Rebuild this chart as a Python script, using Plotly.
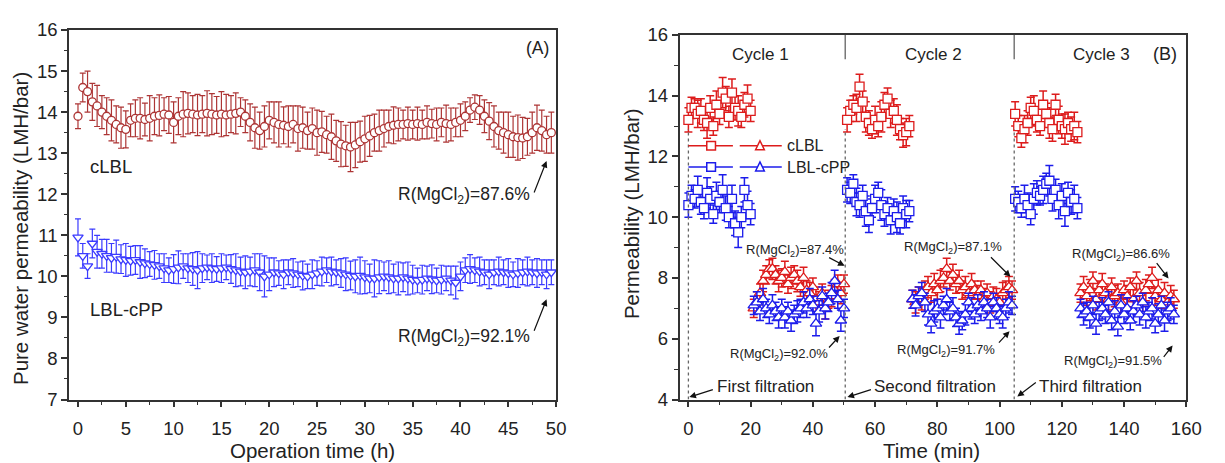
import plotly.graph_objects as go

# ---------------- Panel A data ----------------
time_h = [0.0, 0.5, 1.0, 1.5, 2.0, 2.5, 3.0, 3.5, 4.0, 4.5, 5.0, 5.5, 6.0, 6.5, 7.0, 7.5, 8.0, 8.5, 9.0, 9.5,
          10.0, 10.5, 11.0, 11.5, 12.0, 12.5, 13.0, 13.5, 14.0, 14.5, 15.0, 15.5, 16.0, 16.5, 17.0, 17.5, 18.0, 18.5, 19.0, 19.5,
          20.0, 20.5, 21.0, 21.5, 22.0, 22.5, 23.0, 23.5, 24.0, 24.5, 25.0, 25.5, 26.0, 26.5, 27.0, 27.5, 28.0, 28.5, 29.0, 29.5,
          30.0, 30.5, 31.0, 31.5, 32.0, 32.5, 33.0, 33.5, 34.0, 34.5, 35.0, 35.5, 36.0, 36.5, 37.0, 37.5, 38.0, 38.5, 39.0, 39.5,
          40.0, 40.5, 41.0, 41.5, 42.0, 42.5, 43.0, 43.5, 44.0, 44.5, 45.0, 45.5, 46.0, 46.5, 47.0, 47.5, 48.0, 48.5, 49.0, 49.5]

clbl_A = [13.9, 14.6, 14.5, 14.25, 14.15, 14.0, 13.9, 13.8, 13.7, 13.62, 13.58, 13.8, 13.85, 13.85, 13.82, 13.85, 13.9, 13.92, 13.95, 13.93,
          13.75, 13.9, 13.95, 13.97, 13.95, 13.93, 13.95, 13.97, 13.95, 13.93, 13.95, 13.93, 13.95, 13.97, 14.0, 13.9, 13.75, 13.62, 13.55, 13.65,
          13.8, 13.75, 13.7, 13.68, 13.65, 13.7, 13.6, 13.62, 13.55, 13.6, 13.5, 13.52, 13.45, 13.4, 13.3, 13.22, 13.18, 13.15, 13.2, 13.28,
          13.35, 13.42, 13.5, 13.55, 13.6, 13.65, 13.68, 13.7, 13.7, 13.72, 13.7, 13.72, 13.7, 13.75, 13.72, 13.7, 13.75, 13.72, 13.7, 13.75,
          13.8, 13.9, 14.05, 14.12, 14.05, 13.9, 13.78, 13.65, 13.55, 13.5, 13.45, 13.4, 13.38, 13.37, 13.4, 13.5, 13.62, 13.55, 13.45, 13.5]
clbl_A_err = [0.3, 0.35, 0.5, 0.45, 0.5, 0.4, 0.45, 0.5, 0.45, 0.5, 0.45, 0.4, 0.45, 0.5, 0.4, 0.55, 0.45, 0.5, 0.4, 0.45,
              0.5, 0.45, 0.55, 0.5, 0.45, 0.5, 0.45, 0.55, 0.5, 0.45, 0.55, 0.5, 0.45, 0.5, 0.35, 0.4, 0.45, 0.5, 0.45, 0.5,
              0.45, 0.5, 0.55, 0.45, 0.5, 0.45, 0.55, 0.5, 0.45, 0.5, 0.55, 0.5, 0.45, 0.55, 0.5, 0.55, 0.5, 0.6, 0.55, 0.5,
              0.55, 0.5, 0.45, 0.5, 0.45, 0.4, 0.45, 0.4, 0.35, 0.4, 0.35, 0.4, 0.35, 0.4, 0.35, 0.4, 0.35, 0.45, 0.4, 0.35,
              0.4, 0.35, 0.3, 0.3, 0.35, 0.4, 0.45, 0.5, 0.45, 0.5, 0.55, 0.5, 0.55, 0.5, 0.45, 0.5, 0.55, 0.5, 0.45, 0.5]

lblcpp_A = [10.95, 10.5, 10.25, 10.8, 10.6, 10.55, 10.5, 10.45, 10.48, 10.42, 10.4, 10.38, 10.4, 10.35, 10.32, 10.3, 10.28, 10.25, 10.2, 10.15,
            10.18, 10.22, 10.25, 10.2, 10.18, 10.15, 10.2, 10.22, 10.2, 10.18, 10.2, 10.22, 10.18, 10.15, 10.12, 10.1, 10.12, 10.15, 10.1, 10.0,
            10.05, 10.1, 10.08, 10.05, 10.1, 10.08, 10.05, 10.02, 10.0, 10.05, 10.08, 10.12, 10.15, 10.12, 10.1, 10.08, 10.05, 10.02, 10.0, 10.02,
            9.98, 9.95, 9.95, 9.98, 10.0, 9.98, 9.95, 9.95, 9.98, 9.95, 9.92, 9.9, 9.92, 9.95, 9.93, 9.9, 9.92, 9.95, 9.9, 9.85,
            10.0, 10.15, 10.18, 10.15, 10.12, 10.1, 10.05, 10.1, 10.12, 10.1, 10.08, 10.05, 10.08, 10.1, 10.12, 10.1, 10.08, 10.1, 10.05, 10.1]
lblcpp_A_err = [0.45, 0.3, 0.3, 0.35, 0.4, 0.35, 0.4, 0.35, 0.4, 0.35, 0.4, 0.35, 0.35, 0.4, 0.35, 0.3, 0.35, 0.3, 0.35, 0.3,
                0.35, 0.4, 0.3, 0.35, 0.4, 0.45, 0.35, 0.3, 0.35, 0.3, 0.35, 0.3, 0.35, 0.4, 0.35, 0.4, 0.35, 0.4, 0.45, 0.5,
                0.4, 0.35, 0.3, 0.35, 0.3, 0.35, 0.3, 0.35, 0.3, 0.35, 0.3, 0.35, 0.3, 0.35, 0.3, 0.35, 0.4, 0.35, 0.4, 0.45,
                0.4, 0.35, 0.45, 0.4, 0.35, 0.4, 0.35, 0.4, 0.35, 0.4, 0.35, 0.3, 0.35, 0.3, 0.35, 0.3, 0.35, 0.3, 0.35, 0.4,
                0.35, 0.3, 0.35, 0.3, 0.35, 0.3, 0.35, 0.3, 0.35, 0.3, 0.35, 0.3, 0.35, 0.3, 0.35, 0.3, 0.35, 0.3, 0.35, 0.3]

# ---------------- Panel B data ----------------
t_sq1 = [0, 1, 2, 3, 4, 5, 6, 7, 8, 9, 10, 11, 12, 13, 14, 15, 16, 17, 18, 19, 20]
t_tr1 = [21, 22, 23, 24, 25, 26, 27, 28, 29, 30, 31, 32, 33, 34, 35, 36, 37, 38, 39, 40, 41, 42, 43, 44, 45, 46, 47, 48, 49, 50]
t_sq2 = [51, 52, 53, 54, 55, 56, 57, 58, 59, 60, 61, 62, 63, 64, 65, 66, 67, 68, 69, 70, 71]
t_tr2 = [72, 73, 74, 75, 76, 77, 78, 79, 80, 81, 82, 83, 84, 85, 86, 87, 88, 89, 90, 91, 92, 93, 94, 95, 96, 97, 98, 99, 100,
         101, 102, 103, 104]
t_sq3 = [105, 106, 107, 108, 109, 110, 111, 112, 113, 114, 115, 116, 117, 118, 119, 120, 121, 122, 123, 124, 125]
t_tr3 = [126, 127, 128, 129, 130, 131, 132, 133, 134, 135, 136, 137, 138, 139, 140, 141, 142, 143, 144, 145, 146, 147, 148, 149,
         150, 151, 152, 153, 154, 155, 156]

clbl_sq1 = [13.2, 13.6, 13.6, 13.4, 13.5, 13.2, 13.1, 13.6, 13.0, 13.7, 13.4, 14.1, 13.9, 13.3, 14.1, 13.6, 13.5, 13.3, 13.7, 13.9, 13.5]
cpp_sq1 = [10.4, 10.7, 10.6, 10.9, 10.5, 10.3, 10.8, 10.6, 10.1, 10.7, 10.5, 10.9, 10.3, 10.0, 10.6, 9.8, 9.5, 10.0, 10.9, 10.4, 10.1]
clbl_tr1 = [7.0, 7.2, 7.5, 7.9, 8.1, 8.3, 8.3, 8.1, 7.9, 8.0, 8.2, 7.8, 8.0, 8.1, 7.9, 7.7, 8.0, 7.6, 7.5, 7.7,
            7.3, 7.2, 7.5, 7.0, 7.3, 7.4, 7.6, 7.8, 7.5, 7.8]
cpp_tr1 = [7.1, 7.2, 6.9, 7.3, 7.0, 6.8, 7.1, 6.9, 6.7, 7.0, 6.7, 6.9, 6.6, 6.8, 6.9, 7.0, 7.2, 7.0, 7.3, 7.1,
           6.5, 6.9, 7.4, 7.0, 7.2, 7.5, 7.9, 7.3, 6.6, 7.0]
clbl_sq2 = [13.2, 13.5, 13.7, 13.6, 14.3, 13.8, 13.3, 13.1, 12.9, 13.2, 13.0, 13.3, 13.7, 13.9, 13.4, 13.5, 13.2, 12.9, 12.7, 12.8, 13.0]
cpp_sq2 = [10.9, 10.8, 11.1, 10.5, 10.4, 10.7, 10.2, 9.9, 10.3, 10.6, 10.8, 10.4, 10.1, 10.3, 9.9, 10.2, 10.0, 9.8, 10.3, 10.1, 10.2]
clbl_tr2 = [7.3, 7.2, 7.4, 7.3, 7.6, 7.7, 7.5, 7.8, 7.6, 7.9, 8.0, 8.3, 7.9, 8.1, 7.8, 7.9, 7.6, 7.7, 7.5, 7.8,
            7.6, 7.4, 7.6, 7.3, 7.5, 7.2, 7.4, 7.3, 7.2, 7.5, 7.6, 7.7, 7.6]
cpp_tr2 = [7.3, 7.1, 7.4, 7.5, 7.2, 6.8, 6.5, 6.9, 7.0, 6.7, 7.1, 7.3, 6.9, 7.0, 6.7, 6.5, 6.6, 6.8, 7.2, 7.0,
           6.8, 7.1, 6.9, 7.2, 7.0, 6.7, 7.2, 7.0, 6.8, 6.7, 7.0, 7.2, 7.1]
clbl_sq3 = [13.4, 13.0, 12.6, 12.9, 13.1, 13.6, 13.5, 13.2, 13.0, 13.7, 13.4, 13.1, 12.9, 13.7, 13.2, 13.0, 12.9, 13.1, 12.9, 13.0, 12.8]
cpp_sq3 = [10.6, 10.5, 10.3, 10.6, 10.4, 10.1, 10.6, 10.8, 10.7, 10.9, 11.1, 11.2, 10.6, 10.9, 10.4, 10.7, 10.2, 10.8, 10.5, 10.6, 10.3]
clbl_tr3 = [7.5, 7.7, 7.4, 7.6, 7.9, 7.3, 7.6, 7.8, 7.5, 7.3, 7.7, 7.4, 7.5, 7.2, 7.6, 7.4, 7.7, 7.3, 7.9, 7.5,
            7.2, 7.6, 7.8, 8.0, 7.4, 7.6, 7.3, 7.5, 7.2, 7.4, 7.3]
cpp_tr3 = [7.0, 6.8, 6.9, 6.7, 7.1, 6.5, 6.9, 7.0, 6.8, 7.2, 6.6, 6.9, 6.4, 7.1, 6.8, 7.0, 6.6, 6.9, 7.1, 6.8,
           7.2, 6.7, 6.9, 7.0, 6.5, 6.8, 7.1, 6.6, 6.9, 7.0, 6.8]
err_sq = [0.4, 0.35, 0.3, 0.45, 0.4, 0.35, 0.5, 0.4, 0.3, 0.45, 0.35, 0.5, 0.4, 0.35, 0.45, 0.4, 0.5, 0.35, 0.4, 0.45, 0.35]
err_tr1 = [0.3, 0.35, 0.3, 0.35, 0.3, 0.3, 0.35, 0.3, 0.35, 0.3, 0.35, 0.3, 0.35, 0.3, 0.35, 0.3, 0.35, 0.3, 0.35, 0.3,
           0.4, 0.35, 0.3, 0.35, 0.3, 0.35, 0.35, 0.3, 0.35, 0.3]
err_tr2 = [0.3, 0.35, 0.3, 0.35, 0.3, 0.35, 0.3, 0.35, 0.3, 0.35, 0.3, 0.35, 0.3, 0.35, 0.3, 0.35, 0.3, 0.35, 0.3, 0.35,
           0.3, 0.35, 0.3, 0.35, 0.3, 0.35, 0.3, 0.35, 0.3, 0.35, 0.3, 0.35, 0.3]
err_tr3 = [0.3, 0.35, 0.3, 0.35, 0.3, 0.35, 0.3, 0.35, 0.3, 0.35, 0.3, 0.35, 0.3, 0.35, 0.3, 0.35, 0.3, 0.35, 0.3, 0.35,
           0.3, 0.35, 0.3, 0.35, 0.3, 0.35, 0.3, 0.35, 0.3, 0.35, 0.3]

cycle_bounds = [0, 50.4, 104.7]
cycle_labels = ["Cycle 1", "Cycle 2", "Cycle 3"]
cycle_label_x = [23.2, 78.7, 132.7]

RED_A = "#ad3535"
BLUE_A = "#3b3bff"
RED_B = "#dd1c1c"
BLUE_B = "#1c1ceb"
FONT = "Arial, Liberation Sans, sans-serif"
TXT = "#222222"

fig = go.Figure()

def add_series(x, y, err, color, symbol, size, xa, ya, width=1.2, cap=3):
    fig.add_trace(go.Scatter(
        x=x, y=y, mode="markers", xaxis=xa, yaxis=ya, showlegend=False,
        error_y=dict(type="data", array=err, visible=True, color=color, thickness=width, width=cap),
        marker=dict(symbol=symbol, size=size, color="white", line=dict(color=color, width=1.3)),
    ))

# Panel A
add_series(time_h, clbl_A, clbl_A_err, RED_A, "circle", 8, "x", "y")
add_series(time_h, lblcpp_A, lblcpp_A_err, BLUE_A, "triangle-down", 9, "x", "y")

# Panel B
for xs, ys in [(t_sq1, clbl_sq1), (t_sq2, clbl_sq2), (t_sq3, clbl_sq3)]:
    add_series(xs, ys, err_sq, RED_B, "square", 9, "x2", "y2", 1.5, 4)
for xs, ys in [(t_sq1, cpp_sq1), (t_sq2, cpp_sq2), (t_sq3, cpp_sq3)]:
    add_series(xs, ys, err_sq, BLUE_B, "square", 9, "x2", "y2", 1.5, 4)
for xs, ys, e in [(t_tr1, clbl_tr1, err_tr1), (t_tr2, clbl_tr2, err_tr2), (t_tr3, clbl_tr3, err_tr3)]:
    add_series(xs, ys, e, RED_B, "triangle-up", 10, "x2", "y2", 1.5, 4)
for xs, ys, e in [(t_tr1, cpp_tr1, err_tr1), (t_tr2, cpp_tr2, err_tr2), (t_tr3, cpp_tr3, err_tr3)]:
    add_series(xs, ys, e, BLUE_B, "triangle-up", 10, "x2", "y2", 1.5, 4)

axis_common = dict(showline=True, linecolor="#333333", linewidth=1.6, mirror=True,
                   ticks="outside", ticklen=6, tickwidth=1.5, tickcolor="#333333",
                   showgrid=False, zeroline=False,
                   tickfont=dict(family=FONT, size=18.5, color=TXT))

fig.update_layout(
    width=1225, height=463,
    margin=dict(l=0, r=0, t=0, b=0),
    paper_bgcolor="white", plot_bgcolor="white",
    font=dict(family=FONT, color=TXT),
    xaxis=dict(domain=[0.0571, 0.4596], range=[-0.93, 50], tickvals=[0, 5, 10, 15, 20, 25, 30, 35, 40, 45, 50],
               minor=dict(ticks="outside", ticklen=3.5, tickwidth=1.2, dtick=2.5, tick0=0, tickcolor="#333333"),
               ticklabelstandoff=5, anchor="y", **axis_common),
    yaxis=dict(domain=[0.121, 0.957], range=[7, 16], dtick=1,
               minor=dict(ticks="outside", ticklen=3.5, tickwidth=1.2, dtick=0.5, tickcolor="#333333"),
               anchor="x", **axis_common),
    xaxis2=dict(domain=[0.5616, 0.9804], range=[-2.85, 160], tickvals=[0, 20, 40, 60, 80, 100, 120, 140, 160],
                minor=dict(ticks="outside", ticklen=3.5, tickwidth=1.2, dtick=10, tick0=0, tickcolor="#333333"),
                ticklabelstandoff=5, anchor="y2", **axis_common),
    yaxis2=dict(domain=[0.121, 0.946], range=[4, 16], dtick=2,
                minor=dict(ticks="outside", ticklen=3.5, tickwidth=1.2, dtick=1, tickcolor="#333333"),
                anchor="x2", **axis_common),
)

ann = []
def text(x, y, s, size=17, xref="x", yref="y", angle=0, xanchor="center"):
    ann.append(dict(x=x, y=y, xref=xref, yref=yref, text=s, showarrow=False, textangle=angle,
                    xanchor=xanchor, yanchor="middle", font=dict(family=FONT, size=size, color=TXT)))

def arrow(x, y, ax, ay, xref="x", yref="y"):
    ann.append(dict(x=x, y=y, xref=xref, yref=yref, text="", showarrow=True, ax=ax, ay=ay,
                    arrowhead=2, arrowsize=1.1, arrowwidth=1.2, arrowcolor="#111111"))

# Axis titles
text(0.017, 0.508, "Pure water permeability (LMH/bar)", 20.5, "paper", "paper", -90)
text(0.258, 0.006, "Operation time (h)", 20.5, "paper", "paper")
text(0.522, 0.542, "Permeability (LMH/bar)", 20.5, "paper", "paper", -90)
text(0.77, 0.006, "Time (min)", 20.5, "paper", "paper")

# Panel A texts
text(48.1, 15.56, "(A)", 17.5)
text(3.5, 12.67, "cLBL", 18.5)
text(5.1, 9.19, "LBL-cPP", 18.5)
text(40.4, 11.98, "R(MgCl<sub>2</sub>)=87.6%", 17.5)
arrow(49.0, 12.81, -13, 33)
text(40.4, 8.51, "R(MgCl<sub>2</sub>)=92.1%", 17.5)
arrow(49.0, 9.44, -13, 33)

# Panel B texts
for lx, lab in zip(cycle_label_x, cycle_labels):
    text(lx, 15.37, lab, 17, "x2", "y2")
text(153.3, 15.37, "(B)", 18, "x2", "y2")
text(34.3, 8.9, "R(MgCl<sub>2</sub>)=87.4%", 13, "x2", "y2")
arrow(50.2, 8.4, -17, -9, "x2", "y2")
text(29.2, 5.47, "R(MgCl<sub>2</sub>)=92.0%", 13, "x2", "y2")
arrow(48.6, 6.09, -12, 13, "x2", "y2")
text(85.1, 8.99, "R(MgCl<sub>2</sub>)=87.1%", 13, "x2", "y2")
arrow(103.5, 8.04, -21, -21, "x2", "y2")
text(82.9, 5.62, "R(MgCl<sub>2</sub>)=91.7%", 13, "x2", "y2")
arrow(103.2, 6.25, -12, 13, "x2", "y2")
text(139.0, 8.77, "R(MgCl<sub>2</sub>)=86.6%", 13, "x2", "y2")
arrow(154.3, 7.98, -13, -17, "x2", "y2")
text(136.5, 5.25, "R(MgCl<sub>2</sub>)=91.5%", 13, "x2", "y2")
arrow(155.6, 5.78, -10, 13, "x2", "y2")
text(24.8, 4.42, "First filtration", 17, "x2", "y2")
arrow(0.3, 4.08, 25, -8, "x2", "y2")
text(79.4, 4.42, "Second filtration", 17, "x2", "y2")
arrow(51.1, 4.08, 25, -8, "x2", "y2")
text(129.2, 4.42, "Third filtration", 17, "x2", "y2")
arrow(105.7, 4.1, 20, -15, "x2", "y2")

# Legend samples in panel B
text(31.0, 12.35, "cLBL", 16, "x2", "y2", xanchor="left")
text(31.0, 11.65, "LBL-cPP", 16, "x2", "y2", xanchor="left")
fig.update_layout(annotations=ann)

shapes = []
for cx in cycle_bounds:
    shapes.append(dict(type="line", xref="x2", yref="y2", x0=cx, x1=cx, y0=4, y1=12.9,
                       line=dict(color="#666666", width=1.3, dash="dot")))
for cx in cycle_bounds[1:]:
    shapes.append(dict(type="line", xref="x2", yref="y2", x0=cx, x1=cx, y0=15.2, y1=16,
                       line=dict(color="#777777", width=1.5)))
for ly, col in [(12.35, RED_B), (11.65, BLUE_B)]:
    shapes.append(dict(type="line", xref="x2", yref="y2", x0=0, x1=14.3, y0=ly, y1=ly, line=dict(color=col, width=1.5)))
    shapes.append(dict(type="line", xref="x2", yref="y2", x0=16.5, x1=30, y0=ly, y1=ly, line=dict(color=col, width=1.5)))
    shapes.append(dict(type="rect", xref="x2", yref="y2", x0=5.9, x1=8.7, y0=ly - 0.14, y1=ly + 0.14,
                       line=dict(color=col, width=1.5), fillcolor="white"))
    shapes.append(dict(type="path", xref="x2", yref="y2",
                       path=f"M 21.6 {ly - 0.13} L 24.4 {ly - 0.13} L 23.0 {ly + 0.17} Z",
                       line=dict(color=col, width=1.5), fillcolor="white"))
fig.update_layout(shapes=shapes)

fig.write_html("out.html")
